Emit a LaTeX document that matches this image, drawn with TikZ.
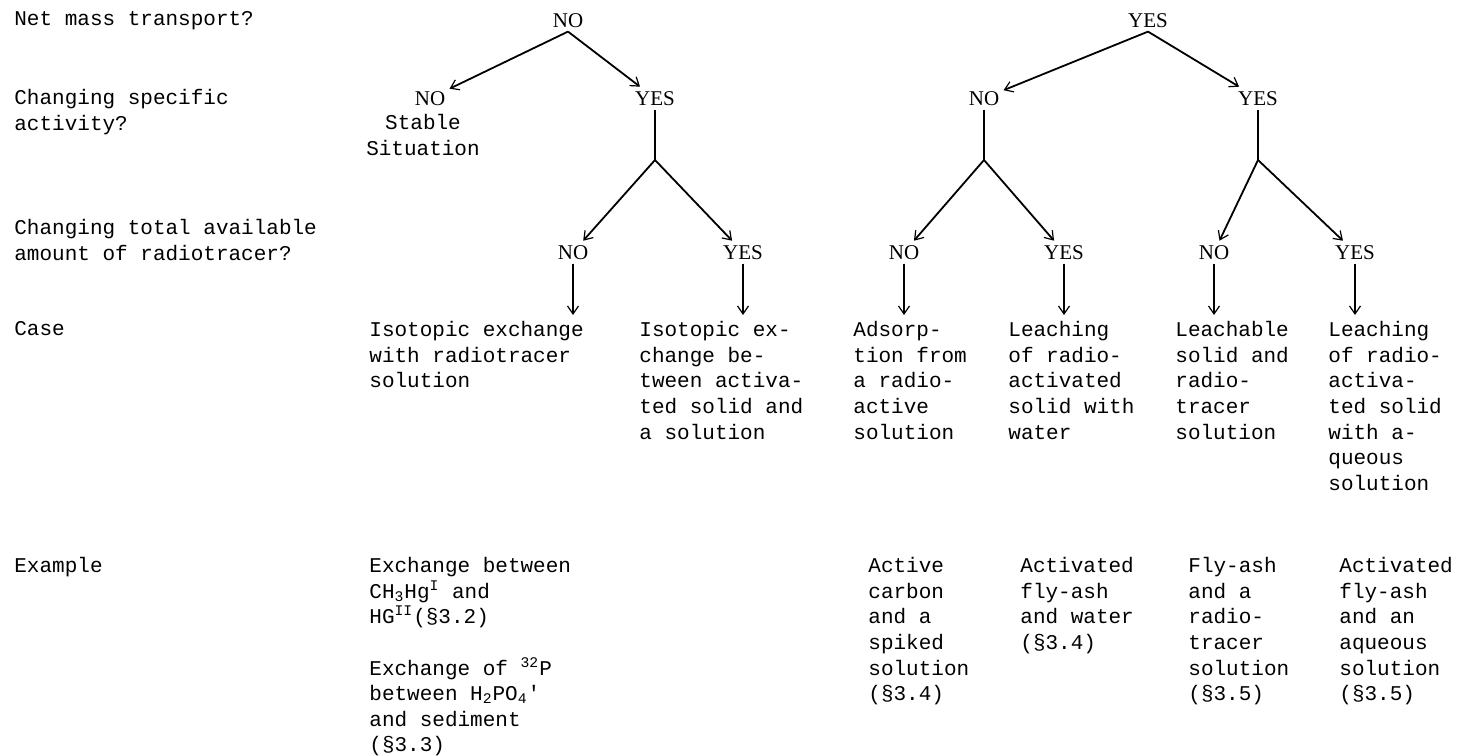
\documentclass[tikz,border=0pt]{standalone}
\usepackage{fontspec}
\setmainfont{Liberation Serif}
\setmonofont{Liberation Mono}
\usepackage{tikz}
\usetikzlibrary{arrows.meta}

\begin{document}
\begin{tikzpicture}[x=0.5pt, y=-0.5pt,
    font=\ttfamily\fontsize{10.5}{12.8}\selectfont,
    txt/.style={align=left, anchor=north west, inner sep=0pt},
    ans/.style={font=\rmfamily\fontsize{10.5}{12.8}\selectfont, anchor=base, inner sep=2pt},
    arr/.style={line width=0.9pt, -{Straight Barb[length=4pt, width=5.5pt, line width=0.6pt]}},
    stem/.style={line width=0.9pt}]
    \useasboundingbox (0,0) rectangle (1460,755);

    \node[txt] (q1) at (14,11) {Net mass transport?};
    \node[txt] (q2) at (14,89) {Changing specific\\activity?};
    \node[txt] (q3) at (14,219) {Changing total available\\amount of radiotracer?};
    \node[txt] (q4) at (14,321) {Case};
    \node[txt] (q5) at (14,557) {Example};

    \node[ans] (no0) at (568,27) {NO};
    \node[ans] (yes0) at (1148,27) {YES};
    \node[ans] (no1) at (430,105) {NO};
    \node[ans] (yes1) at (655,105) {YES};
    \node[ans] (no2) at (984,105) {NO};
    \node[ans] (yes2) at (1258,105) {YES};
    \node[align=center, anchor=north, inner sep=0pt] (stable) at (423,114) {Stable\\Situation};

    \coordinate (fork1) at (655,160);
    \coordinate (fork2) at (984,160);
    \coordinate (fork3) at (1258,160);

    \node[ans] (na) at (573,259) {NO};
    \node[ans] (ya) at (743,259) {YES};
    \node[ans] (nb) at (904,259) {NO};
    \node[ans] (yb) at (1064,259) {YES};
    \node[ans] (nc) at (1214,259) {NO};
    \node[ans] (yc) at (1355,259) {YES};

    \node[txt] (case1) at (369,321) {Isotopic exchange\\with radiotracer\\solution};
    \node[txt] (case2) at (639,321) {Isotopic ex-\\change be-\\tween activa-\\ted solid and\\a solution};
    \node[txt] (case3) at (853,321) {Adsorp-\\tion from\\a radio-\\active\\solution};
    \node[txt] (case4) at (1008,321) {Leaching\\of radio-\\activated\\solid with\\water};
    \node[txt] (case5) at (1175,321) {Leachable\\solid and\\radio-\\tracer\\solution};
    \node[txt] (case6) at (1328,321) {Leaching\\of radio-\\activa-\\ted solid\\with a-\\queous\\solution};

    \node[txt] (ex1) at (369,557) {Exchange between\\CH\textsubscript{3}Hg\textsuperscript{I} and\\HG\textsuperscript{II}(§3.2)\\[12.8pt]Exchange of \textsuperscript{32}P\\between H\textsubscript{2}PO\textsubscript{4}'\\and sediment\\(§3.3)};
    \node[txt] (ex3) at (868,557) {Active\\carbon\\and a\\spiked\\solution\\(§3.4)};
    \node[txt] (ex4) at (1020,557) {Activated\\fly-ash\\and water\\(§3.4)};
    \node[txt] (ex5) at (1188,557) {Fly-ash\\and a\\radio-\\tracer\\solution\\(§3.5)};
    \node[txt] (ex6) at (1339,557) {Activated\\fly-ash\\and an\\aqueous\\solution\\(§3.5)};

    \draw[arr] (no0.south) -- (no1);
    \draw[arr] (no0.south) -- (yes1);
    \draw[arr] (yes0.south) -- (no2);
    \draw[arr] (yes0.south) -- (yes2);

    \draw[stem] (yes1) -- (fork1);
    \draw[stem] (no2) -- (fork2);
    \draw[stem] (yes2) -- (fork3);
    \draw[arr] (fork1) -- (na);
    \draw[arr] (fork1) -- (ya);
    \draw[arr] (fork2) -- (nb);
    \draw[arr] (fork2) -- (yb);
    \draw[arr] (fork3) -- (nc);
    \draw[arr] (fork3) -- (yc);

    \draw[arr, shorten >=3pt] (na) -- (na |- case1.north);
    \draw[arr, shorten >=3pt] (ya) -- (ya |- case2.north);
    \draw[arr, shorten >=3pt] (nb) -- (nb |- case3.north);
    \draw[arr, shorten >=3pt] (yb) -- (yb |- case4.north);
    \draw[arr, shorten >=3pt] (nc) -- (nc |- case5.north);
    \draw[arr, shorten >=3pt] (yc) -- (yc |- case6.north);
\end{tikzpicture}
\end{document}
